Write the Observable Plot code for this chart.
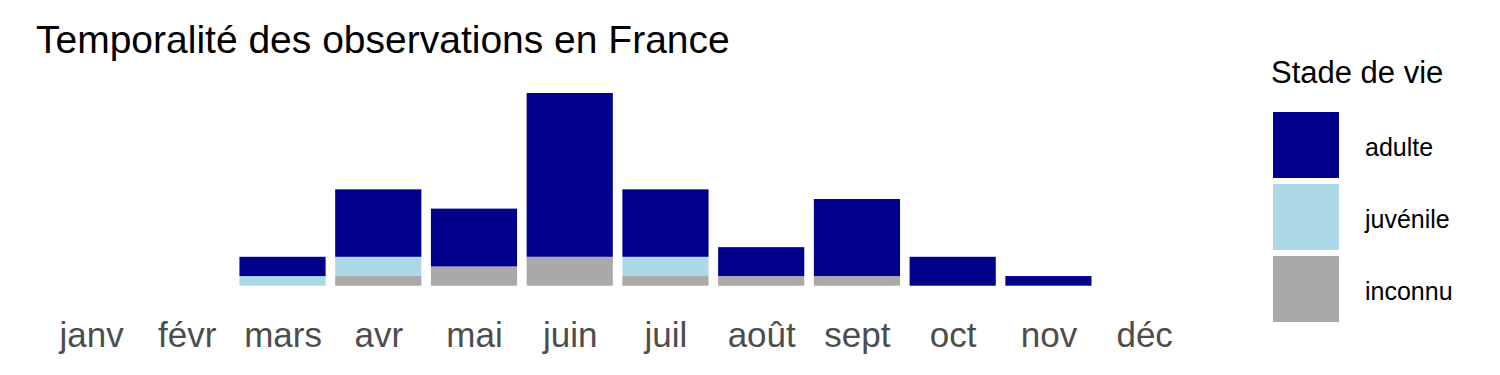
<!DOCTYPE html>
<html>
<head>
<meta charset="utf-8">
<script src="https://cdn.jsdelivr.net/npm/d3@7"></script>
<script src="https://cdn.jsdelivr.net/npm/@observablehq/plot@0.6"></script>
<style>
  html, body { margin: 0; padding: 0; background: #fff; }
  #wrap { position: relative; width: 1500px; height: 375px; font-family: "Liberation Sans", Arial, sans-serif; }
  #wrap svg { position: absolute; left: 0; top: 0; font-family: "Liberation Sans", Arial, sans-serif; }
  .title { position: absolute; left: 36px; top: 19.5px; font-size: 39px; line-height: 1; color: #000; white-space: nowrap; }
  .ltitle { position: absolute; left: 1271px; top: 57px; font-size: 31px; line-height: 1; color: #000; white-space: nowrap; }
  .key { position: absolute; left: 1273px; width: 66px; height: 66px; }
  .klab { position: absolute; left: 1365px; font-size: 25px; line-height: 1; color: #000; white-space: nowrap; }
</style>
</head>
<body>
<div id="wrap"></div>
<script>
const mois = ["janv","févr","mars","avr","mai","juin","juil","août","sept","oct","nov","déc"];
const adulte   = [0,0,2,7,6,17,7,3,8,3,1,0];
const juvenile = [0,0,1,2,0,0,2,0,0,0,0,0];
const inconnu  = [0,0,0,1,2,3,1,1,1,0,0,0];
const stades = ["adulte","juvénile","inconnu"];
const couleurs = ["#00008B","#ADD8E6","#A9A9A9"];
const titre = "Temporalité des observations en France";
const titreLegende = "Stade de vie";

// rows in stacking order: inconnu (bottom), juvénile, adulte (top)
const series = {"adulte": adulte, "juvénile": juvenile, "inconnu": inconnu};
const rows = [];
for (const s of ["inconnu","juvénile","adulte"]) {
  mois.forEach((m, i) => rows.push({mois: m, stade: s, n: series[s][i]}));
}

const chart = Plot.plot({
  width: 1500,
  height: 375,
  marginLeft: 33.6,
  marginRight: 298.4,
  marginTop: 93,
  marginBottom: 89.3,
  style: {fontFamily: "Liberation Sans, Arial, sans-serif", background: "transparent"},
  x: {domain: mois, paddingInner: 0.1, paddingOuter: 0.15, round: false, label: null, tickSize: 0, tickPadding: 35.5},
  y: {domain: [0, 20], axis: null},
  color: {domain: stades, range: couleurs},
  marks: [
    Plot.barY(rows, Plot.stackY({x: "mois", y: "n", fill: "stade", inset: 0}))
  ]
});
chart.querySelectorAll("g[aria-label='x-axis'] text, g[aria-label='x-axis tick label'] text").forEach(t => {
  t.setAttribute("font-size", "35px");
  t.style.fontSize = "35px";
  t.setAttribute("fill", "#4D4D4D");
});
chart.querySelectorAll("g[aria-label='x-axis'], g[aria-label='x-axis tick label']").forEach(g => {
  g.setAttribute("font-size", "35px");
  g.setAttribute("fill", "#4D4D4D");
});

const wrap = document.getElementById("wrap");
wrap.appendChild(chart);

const t = document.createElement("div");
t.className = "title"; t.textContent = titre; wrap.appendChild(t);

const lt = document.createElement("div");
lt.className = "ltitle"; lt.textContent = titreLegende; wrap.appendChild(lt);

const color = chart.scale("color");
stades.forEach((s, i) => {
  const k = document.createElement("div");
  k.className = "key";
  k.style.top = (112 + 72 * i) + "px";
  k.style.background = color.apply(s);
  wrap.appendChild(k);
  const l = document.createElement("div");
  l.className = "klab";
  l.style.top = (112 + 72 * i + 44 - 21.2) + "px";
  l.textContent = s;
  wrap.appendChild(l);
});
</script>
</body>
</html>
